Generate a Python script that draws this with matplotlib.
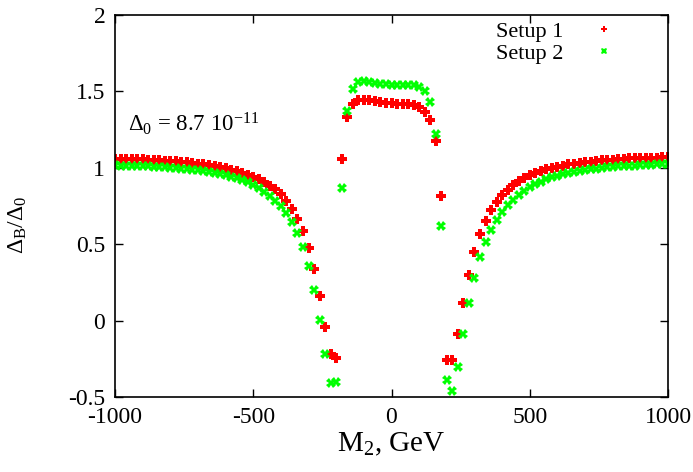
import numpy as np
import matplotlib
matplotlib.use('Agg')
import matplotlib.pyplot as plt

plt.rcParams['font.family'] = ['Liberation Serif', 'DejaVu Serif']
plt.rcParams['mathtext.fontset'] = 'custom'
plt.rcParams['mathtext.rm'] = 'Liberation Serif'
plt.rcParams['mathtext.it'] = 'Liberation Serif:italic'

# M2 grid, GeV
m2 = np.arange(-1000, 1001, 20)

# Setup 1 (red)
setup1 = [
    1.060, 1.059, 1.057, 1.057, 1.055, 1.055, 1.053, 1.051, 1.049, 1.047,
    1.044, 1.042, 1.038, 1.036, 1.031, 1.027, 1.023, 1.018, 1.012, 1.005,
    0.996, 0.988, 0.979, 0.968, 0.955, 0.941, 0.924, 0.906, 0.884, 0.858,
    0.826, 0.784, 0.732, 0.667, 0.584, 0.475, 0.335, 0.159, -0.044, -0.218,
    -0.248, 1.057, 1.333, 1.416, 1.442, 1.446, 1.444, 1.436, 1.431, 1.427,
    1.423, 1.420, 1.418, 1.416, 1.410, 1.397, 1.368, 1.312, 1.178, 0.817,
    -0.257, -0.257, -0.090, 0.113, 0.299, 0.450, 0.567, 0.654, 0.724, 0.778,
    0.820, 0.855, 0.885, 0.913, 0.933, 0.950, 0.965, 0.978, 0.989, 0.998,
    1.006, 1.015, 1.022, 1.028, 1.033, 1.037, 1.041, 1.046, 1.048, 1.052,
    1.054, 1.057, 1.059, 1.061, 1.063, 1.065, 1.065, 1.067, 1.067, 1.069,
    1.070,
]

# Setup 2 (green)
setup2 = [
    1.016, 1.015, 1.014, 1.013, 1.012, 1.011, 1.009, 1.007, 1.005, 1.003,
    1.001, 0.998, 0.995, 0.992, 0.988, 0.984, 0.979, 0.973, 0.967, 0.959,
    0.951, 0.942, 0.933, 0.920, 0.904, 0.887, 0.867, 0.843, 0.817, 0.784,
    0.747, 0.701, 0.647, 0.575, 0.479, 0.355, 0.198, 0.002, -0.220, -0.410,
    -0.400, 0.871, 1.374, 1.516, 1.560, 1.567, 1.560, 1.556, 1.551, 1.547,
    1.545, 1.545, 1.545, 1.545, 1.542, 1.531, 1.503, 1.430, 1.224, 0.617,
    -0.390, -0.462, -0.305, -0.087, 0.115, 0.281, 0.414, 0.514, 0.595, 0.658,
    0.710, 0.754, 0.791, 0.821, 0.850, 0.874, 0.893, 0.908, 0.924, 0.937,
    0.948, 0.959, 0.967, 0.974, 0.980, 0.987, 0.991, 0.995, 1.000, 1.005,
    1.007, 1.009, 1.011, 1.013, 1.015, 1.018, 1.019, 1.020, 1.022, 1.023,
    1.024,
]

xticks = [-1000, -500, 0, 500, 1000]
yticks = [-0.5, 0, 0.5, 1, 1.5, 2]
yticklabels = ['-0.5', '0', '0.5', '1', '1.5', '2']

fig = plt.figure(figsize=(6.93, 4.72), dpi=100)
ax = fig.add_axes([115 / 693, 1 - 397 / 472, 553 / 693, 382 / 472])

ax.plot(m2, setup1, linestyle='none', marker='P', markersize=6.5,
        color='#ff0000', markeredgewidth=0, label='Setup 1')
ax.plot(m2, setup2, linestyle='none', marker='X', markersize=6.5,
        color='#00ff00', markeredgewidth=0, label='Setup 2')

ax.set_xlim(-1000, 1000)
ax.set_ylim(-0.5, 2)
ax.set_xticks(xticks)
ax.set_xticklabels([str(t) for t in xticks])
ax.set_yticks(yticks)
ax.set_yticklabels(yticklabels)
ax.tick_params(direction='in', top=True, right=True, length=6, width=1,
               labelsize=17, pad=7)
for s in ax.spines.values():
    s.set_linewidth(1.2)

ax.set_xlabel('M$_2$, GeV', fontsize=21, labelpad=2)
ax.set_ylabel(r'Δ$_\mathrm{B}$/Δ$_0$', fontsize=17)
ax.yaxis.set_label_coords(-0.155, 0.45)

fig.text(128 / 693, 1 - 131 / 472, 'Δ$_0$ = 8.7 10$^{-11}$', fontsize=16.5)

leg = ax.legend(loc='upper right', bbox_to_anchor=(0.94, 1.035),
                markerfirst=False, frameon=False, fontsize=16,
                handlelength=1.0, handletextpad=1.3, labelspacing=0.05,
                markerscale=0.75)

fig.savefig('out.png', dpi=100)
